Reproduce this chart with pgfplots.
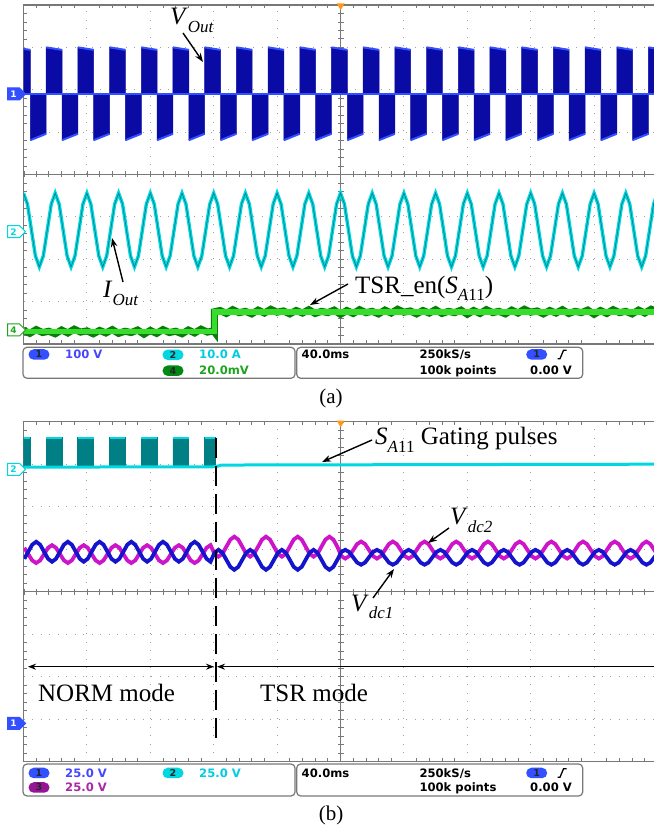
\documentclass[border=0pt]{standalone}
\usepackage{fontspec}
\setmainfont{Liberation Serif}
\newfontfamily\scopefont{DejaVu Sans}
\usepackage{pgfplots}
\pgfplotsset{compat=1.18}
\usetikzlibrary{arrows.meta,shapes.symbols,shapes.misc}
\definecolor{gridc}{RGB}{160,160,160}
\definecolor{bordc}{RGB}{120,120,120}
\definecolor{navyb}{RGB}{10,10,165}
\definecolor{brightb}{RGB}{50,80,255}
\definecolor{cyanc}{RGB}{0,215,225}
\definecolor{tealc}{RGB}{0,128,132}
\definecolor{greenc}{RGB}{55,220,45}
\definecolor{dgreen}{RGB}{10,125,10}
\definecolor{vblue}{RGB}{20,20,205}
\definecolor{vmag}{RGB}{205,20,200}
\definecolor{txtblue}{RGB}{70,70,255}
\definecolor{txtcyan}{RGB}{0,205,225}
\definecolor{txtgreen}{RGB}{30,165,30}
\definecolor{txtpurp}{RGB}{170,40,165}
\definecolor{trigor}{RGB}{255,150,20}
\definecolor{badgeg}{RGB}{0,135,20}
\definecolor{badgep}{RGB}{150,20,150}
\newcommand\st{\scopefont\bfseries\fontsize{11.6bp}{12bp}\selectfont}
\newcommand\an{\fontsize{25bp}{28bp}\selectfont}
\newcommand\lab[2]{\textit{#1}\raisebox{-0.3em}{\fontsize{17bp}{17bp}\selectfont #2}}
\pgfplotsset{scopescreen/.style={
  anchor=south west, scale only axis, width=634bp,
  xmin=0,xmax=400,ymin=-4,ymax=4,
  xtick={0,40,...,400}, ytick={-4,...,4},
  xticklabels={}, yticklabels={},
  major tick length=0pt, minor x tick num=4, minor y tick num=4,
  minor tick length=3.5bp, tick align=inside,
  minor tick style={bordc, line width=0.7bp},
  grid=major, major grid style={gridc, line width=0.9bp, dash pattern=on 1bp off 7.5bp},
  axis line style={bordc, line width=1.3bp},
  unbounded coords=jump, clip=true,
}}
\tikzset{
  chmark/.style={signal, signal to=east, minimum width=18bp, minimum height=12bp, inner sep=0pt,
    font=\scopefont\bfseries\fontsize{9bp}{9bp}\selectfont, line width=1bp},
  badge/.style={rounded rectangle, minimum width=21bp, minimum height=10.5bp, inner sep=0pt,
    font=\scopefont\bfseries\fontsize{9.5bp}{9.5bp}\selectfont, text=black!85},
  arr/.style={line width=1.4bp, -{Stealth[length=9bp,width=6.5bp]}},
}
\begin{document}
\begin{tikzpicture}[x=1bp,y=1bp]
\useasboundingbox (0,0) rectangle (654,829);
% ================= panel (a) =================
\begin{axis}[scopescreen, at={(23.5bp,485bp)}, height=339bp]
\draw[bordc, line width=1bp] (axis cs:0,0) -- (axis cs:400,0);
\draw[bordc, line width=6bp, dash pattern=on 0.8bp off 11.88bp, dash phase=0.4bp] (axis cs:0,0) -- (axis cs:400,0);
\draw[bordc, line width=1bp] (axis cs:200,-4) -- (axis cs:200,4);
\draw[bordc, line width=6bp, dash pattern=on 0.8bp off 7.675bp, dash phase=0.4bp] (axis cs:200,-4) -- (axis cs:200,4);
% V_out PWM blocks
\addplot[fill=navyb, draw=navyb, line width=0.5bp] coordinates {
(-6,1.9)(-6,3.0)
(4.3,2.94)(4.3,0.81)(14.3,0.96)(14.3,3.0)
(24.3,2.94)(24.3,0.81)(34.3,0.96)(34.3,3.0)
(44.3,2.94)(44.3,0.81)(54.3,0.96)(54.3,3.0)
(64.3,2.94)(64.3,0.81)(74.3,0.96)(74.3,3.0)
(84.3,2.94)(84.3,0.81)(94.3,0.96)(94.3,3.0)
(104.3,2.94)(104.3,0.81)(114.3,0.96)(114.3,3.0)
(124.3,2.94)(124.3,0.81)(134.3,0.96)(134.3,3.0)
(144.3,2.94)(144.3,0.81)(154.3,0.96)(154.3,3.0)
(164.3,2.94)(164.3,0.81)(174.3,0.96)(174.3,3.0)
(184.3,2.94)(184.3,0.81)(194.3,0.96)(194.3,3.0)
(204.3,2.94)(204.3,0.81)(214.3,0.96)(214.3,3.0)
(224.3,2.94)(224.3,0.81)(234.3,0.96)(234.3,3.0)
(244.3,2.94)(244.3,0.81)(254.3,0.96)(254.3,3.0)
(264.3,2.94)(264.3,0.81)(274.3,0.96)(274.3,3.0)
(284.3,2.94)(284.3,0.81)(294.3,0.96)(294.3,3.0)
(304.3,2.94)(304.3,0.81)(314.3,0.96)(314.3,3.0)
(324.3,2.94)(324.3,0.81)(334.3,0.96)(334.3,3.0)
(344.3,2.94)(344.3,0.81)(354.3,0.96)(354.3,3.0)
(364.3,2.94)(364.3,0.81)(374.3,0.96)(374.3,3.0)
(384.3,2.94)(384.3,0.81)(394.3,0.96)(394.3,3.0)
(404.3,2.94)(404.3,1.9)};
\addplot[brightb, line width=2bp] coordinates {
(-6,3.0)(4.3,2.94)(4.3,nan)
(14.3,3.0)(24.3,2.94)(24.3,nan)(34.3,3.0)(44.3,2.94)(44.3,nan)
(54.3,3.0)(64.3,2.94)(64.3,nan)(74.3,3.0)(84.3,2.94)(84.3,nan)
(94.3,3.0)(104.3,2.94)(104.3,nan)(114.3,3.0)(124.3,2.94)(124.3,nan)
(134.3,3.0)(144.3,2.94)(144.3,nan)(154.3,3.0)(164.3,2.94)(164.3,nan)
(174.3,3.0)(184.3,2.94)(184.3,nan)(194.3,3.0)(204.3,2.94)(204.3,nan)
(214.3,3.0)(224.3,2.94)(224.3,nan)(234.3,3.0)(244.3,2.94)(244.3,nan)
(254.3,3.0)(264.3,2.94)(264.3,nan)(274.3,3.0)(284.3,2.94)(284.3,nan)
(294.3,3.0)(304.3,2.94)(304.3,nan)(314.3,3.0)(324.3,2.94)(324.3,nan)
(334.3,3.0)(344.3,2.94)(344.3,nan)(354.3,3.0)(364.3,2.94)(364.3,nan)
(374.3,3.0)(384.3,2.94)(384.3,nan)(394.3,3.0)(404.3,2.94)};
\addplot[brightb, line width=2bp] coordinates {
(4.3,0.81)(14.3,0.96)(14.3,nan)(24.3,0.81)(34.3,0.96)(34.3,nan)
(44.3,0.81)(54.3,0.96)(54.3,nan)(64.3,0.81)(74.3,0.96)(74.3,nan)
(84.3,0.81)(94.3,0.96)(94.3,nan)(104.3,0.81)(114.3,0.96)(114.3,nan)
(124.3,0.81)(134.3,0.96)(134.3,nan)(144.3,0.81)(154.3,0.96)(154.3,nan)
(164.3,0.81)(174.3,0.96)(174.3,nan)(184.3,0.81)(194.3,0.96)(194.3,nan)
(204.3,0.81)(214.3,0.96)(214.3,nan)(224.3,0.81)(234.3,0.96)(234.3,nan)
(244.3,0.81)(254.3,0.96)(254.3,nan)(264.3,0.81)(274.3,0.96)(274.3,nan)
(284.3,0.81)(294.3,0.96)(294.3,nan)(304.3,0.81)(314.3,0.96)(314.3,nan)
(324.3,0.81)(334.3,0.96)(334.3,nan)(344.3,0.81)(354.3,0.96)(354.3,nan)
(364.3,0.81)(374.3,0.96)(374.3,nan)(384.3,0.81)(394.3,0.96)};
\addplot[brightb, line width=1.6bp] coordinates {(0,1.9)(400,1.9)};
% I_out
\addplot[cyanc, line width=3.4bp] coordinates {
(0,-0.44)(2.5,-0.70)(5,-1.31)(7.5,-1.92)(10,-2.18)(12.5,-1.92)(15,-1.31)(17.5,-0.70)
(20,-0.44)(22.5,-0.70)(25,-1.31)(27.5,-1.92)(30,-2.18)(32.5,-1.92)(35,-1.31)(37.5,-0.70)
(40,-0.44)(42.5,-0.70)(45,-1.31)(47.5,-1.92)(50,-2.18)(52.5,-1.92)(55,-1.31)(57.5,-0.70)
(60,-0.44)(62.5,-0.70)(65,-1.31)(67.5,-1.92)(70,-2.18)(72.5,-1.92)(75,-1.31)(77.5,-0.70)
(80,-0.44)(82.5,-0.70)(85,-1.31)(87.5,-1.92)(90,-2.18)(92.5,-1.92)(95,-1.31)(97.5,-0.70)
(100,-0.44)(102.5,-0.70)(105,-1.31)(107.5,-1.92)(110,-2.18)(112.5,-1.92)(115,-1.31)(117.5,-0.70)
(120,-0.44)(122.5,-0.70)(125,-1.31)(127.5,-1.92)(130,-2.18)(132.5,-1.92)(135,-1.31)(137.5,-0.70)
(140,-0.44)(142.5,-0.70)(145,-1.31)(147.5,-1.92)(150,-2.18)(152.5,-1.92)(155,-1.31)(157.5,-0.70)
(160,-0.44)(162.5,-0.70)(165,-1.31)(167.5,-1.92)(170,-2.18)(172.5,-1.92)(175,-1.31)(177.5,-0.70)
(180,-0.44)(182.5,-0.70)(185,-1.31)(187.5,-1.92)(190,-2.18)(192.5,-1.92)(195,-1.31)(197.5,-0.70)
(200,-0.44)(202.5,-0.70)(205,-1.31)(207.5,-1.92)(210,-2.18)(212.5,-1.92)(215,-1.31)(217.5,-0.70)
(220,-0.44)(222.5,-0.70)(225,-1.31)(227.5,-1.92)(230,-2.18)(232.5,-1.92)(235,-1.31)(237.5,-0.70)
(240,-0.44)(242.5,-0.70)(245,-1.31)(247.5,-1.92)(250,-2.18)(252.5,-1.92)(255,-1.31)(257.5,-0.70)
(260,-0.44)(262.5,-0.70)(265,-1.31)(267.5,-1.92)(270,-2.18)(272.5,-1.92)(275,-1.31)(277.5,-0.70)
(280,-0.44)(282.5,-0.70)(285,-1.31)(287.5,-1.92)(290,-2.18)(292.5,-1.92)(295,-1.31)(297.5,-0.70)
(300,-0.44)(302.5,-0.70)(305,-1.31)(307.5,-1.92)(310,-2.18)(312.5,-1.92)(315,-1.31)(317.5,-0.70)
(320,-0.44)(322.5,-0.70)(325,-1.31)(327.5,-1.92)(330,-2.18)(332.5,-1.92)(335,-1.31)(337.5,-0.70)
(340,-0.44)(342.5,-0.70)(345,-1.31)(347.5,-1.92)(350,-2.18)(352.5,-1.92)(355,-1.31)(357.5,-0.70)
(360,-0.44)(362.5,-0.70)(365,-1.31)(367.5,-1.92)(370,-2.18)(372.5,-1.92)(375,-1.31)(377.5,-0.70)
(380,-0.44)(382.5,-0.70)(385,-1.31)(387.5,-1.92)(390,-2.18)(392.5,-1.92)(395,-1.31)(397.5,-0.70)
(400,-0.44)};
\addplot[tealc, line width=0.7bp] coordinates {
(0,-0.44)(2.5,-0.70)(5,-1.31)(7.5,-1.92)(10,-2.18)(12.5,-1.92)(15,-1.31)(17.5,-0.70)
(20,-0.44)(22.5,-0.70)(25,-1.31)(27.5,-1.92)(30,-2.18)(32.5,-1.92)(35,-1.31)(37.5,-0.70)
(40,-0.44)(42.5,-0.70)(45,-1.31)(47.5,-1.92)(50,-2.18)(52.5,-1.92)(55,-1.31)(57.5,-0.70)
(60,-0.44)(62.5,-0.70)(65,-1.31)(67.5,-1.92)(70,-2.18)(72.5,-1.92)(75,-1.31)(77.5,-0.70)
(80,-0.44)(82.5,-0.70)(85,-1.31)(87.5,-1.92)(90,-2.18)(92.5,-1.92)(95,-1.31)(97.5,-0.70)
(100,-0.44)(102.5,-0.70)(105,-1.31)(107.5,-1.92)(110,-2.18)(112.5,-1.92)(115,-1.31)(117.5,-0.70)
(120,-0.44)(122.5,-0.70)(125,-1.31)(127.5,-1.92)(130,-2.18)(132.5,-1.92)(135,-1.31)(137.5,-0.70)
(140,-0.44)(142.5,-0.70)(145,-1.31)(147.5,-1.92)(150,-2.18)(152.5,-1.92)(155,-1.31)(157.5,-0.70)
(160,-0.44)(162.5,-0.70)(165,-1.31)(167.5,-1.92)(170,-2.18)(172.5,-1.92)(175,-1.31)(177.5,-0.70)
(180,-0.44)(182.5,-0.70)(185,-1.31)(187.5,-1.92)(190,-2.18)(192.5,-1.92)(195,-1.31)(197.5,-0.70)
(200,-0.44)(202.5,-0.70)(205,-1.31)(207.5,-1.92)(210,-2.18)(212.5,-1.92)(215,-1.31)(217.5,-0.70)
(220,-0.44)(222.5,-0.70)(225,-1.31)(227.5,-1.92)(230,-2.18)(232.5,-1.92)(235,-1.31)(237.5,-0.70)
(240,-0.44)(242.5,-0.70)(245,-1.31)(247.5,-1.92)(250,-2.18)(252.5,-1.92)(255,-1.31)(257.5,-0.70)
(260,-0.44)(262.5,-0.70)(265,-1.31)(267.5,-1.92)(270,-2.18)(272.5,-1.92)(275,-1.31)(277.5,-0.70)
(280,-0.44)(282.5,-0.70)(285,-1.31)(287.5,-1.92)(290,-2.18)(292.5,-1.92)(295,-1.31)(297.5,-0.70)
(300,-0.44)(302.5,-0.70)(305,-1.31)(307.5,-1.92)(310,-2.18)(312.5,-1.92)(315,-1.31)(317.5,-0.70)
(320,-0.44)(322.5,-0.70)(325,-1.31)(327.5,-1.92)(330,-2.18)(332.5,-1.92)(335,-1.31)(337.5,-0.70)
(340,-0.44)(342.5,-0.70)(345,-1.31)(347.5,-1.92)(350,-2.18)(352.5,-1.92)(355,-1.31)(357.5,-0.70)
(360,-0.44)(362.5,-0.70)(365,-1.31)(367.5,-1.92)(370,-2.18)(372.5,-1.92)(375,-1.31)(377.5,-0.70)
(380,-0.44)(382.5,-0.70)(385,-1.31)(387.5,-1.92)(390,-2.18)(392.5,-1.92)(395,-1.31)(397.5,-0.70)
(400,-0.44)};
% TSR_en green
\addplot[dgreen, line width=7bp] coordinates {
(0,-3.68)(4,-3.75)(8,-3.66)(12,-3.73)(16,-3.70)(20,-3.76)(24,-3.67)(28,-3.74)(32,-3.65)(36,-3.72)
(40,-3.69)(44,-3.76)(48,-3.68)(52,-3.74)(56,-3.66)(60,-3.75)(64,-3.70)(68,-3.73)(72,-3.67)(76,-3.77)
(80,-3.68)(84,-3.75)(88,-3.66)(92,-3.73)(96,-3.70)(100,-3.76)(104,-3.67)(108,-3.74)(112,-3.65)(116,-3.72)
(120,-3.69)(120.4,-3.71)(120.4,-3.24)
(124,-3.21)(128,-3.28)(132,-3.19)(136,-3.26)(140,-3.23)(144,-3.29)(148,-3.20)(152,-3.27)(156,-3.18)(160,-3.25)
(164,-3.22)(168,-3.29)(172,-3.21)(176,-3.27)(180,-3.19)(184,-3.28)(188,-3.23)(192,-3.26)(196,-3.20)(200,-3.30)
(204,-3.21)(208,-3.28)(212,-3.19)(216,-3.26)(220,-3.23)(224,-3.29)(228,-3.20)(232,-3.27)(236,-3.18)(240,-3.25)
(244,-3.22)(248,-3.29)(252,-3.21)(256,-3.27)(260,-3.19)(264,-3.28)(268,-3.23)(272,-3.26)(276,-3.20)(280,-3.30)
(284,-3.21)(288,-3.28)(292,-3.19)(296,-3.26)(300,-3.23)(304,-3.29)(308,-3.20)(312,-3.27)(316,-3.18)(320,-3.25)
(324,-3.22)(328,-3.29)(332,-3.21)(336,-3.27)(340,-3.19)(344,-3.28)(348,-3.23)(352,-3.26)(356,-3.20)(360,-3.30)
(364,-3.21)(368,-3.28)(372,-3.19)(376,-3.26)(380,-3.23)(384,-3.29)(388,-3.20)(392,-3.27)(396,-3.18)(400,-3.25)};
\addplot[greenc, line width=5.5bp] coordinates {(0,-3.71)(120.4,-3.71)(120.4,-3.24)(400,-3.24)};
\end{axis}
% ================= panel (b) =================
\begin{axis}[scopescreen, at={(23.5bp,67.3bp)}, height=340bp]
\draw[bordc, line width=1bp] (axis cs:0,0) -- (axis cs:400,0);
\draw[bordc, line width=6bp, dash pattern=on 0.8bp off 11.88bp, dash phase=0.4bp] (axis cs:0,0) -- (axis cs:400,0);
\draw[bordc, line width=1bp] (axis cs:200,-4) -- (axis cs:200,4);
\draw[bordc, line width=6bp, dash pattern=on 0.8bp off 7.7bp, dash phase=0.4bp] (axis cs:200,-4) -- (axis cs:200,4);
% gating pulses
\addplot[fill=tealc, draw=tealc, line width=0.8bp] coordinates {
(0,2.93)(0,3.62)(4.3,3.62)(4.3,2.93)(14.3,2.93)(14.3,3.62)(24.3,3.62)(24.3,2.93)
(34.3,2.93)(34.3,3.62)(44.3,3.62)(44.3,2.93)(54.3,2.93)(54.3,3.62)(64.3,3.62)(64.3,2.93)
(74.3,2.93)(74.3,3.62)(84.3,3.62)(84.3,2.93)(94.3,2.93)(94.3,3.62)(104.3,3.62)(104.3,2.93)
(114.3,2.93)(114.3,3.62)(121,3.62)(121,2.93)};
\addplot[cyanc, line width=2.4bp] coordinates {
(0,3.62)(4.3,3.62)(4.3,nan)(14.3,3.62)(24.3,3.62)(24.3,nan)(34.3,3.62)(44.3,3.62)(44.3,nan)
(54.3,3.62)(64.3,3.62)(64.3,nan)(74.3,3.62)(84.3,3.62)(84.3,nan)(94.3,3.62)(104.3,3.62)(104.3,nan)
(114.3,3.62)(121,3.62)};
\addplot[cyanc, line width=3bp] coordinates {(0,2.93)(121,2.94)(125,2.98)(400,3.0)};
% Vdc2 (magenta)
\addplot[vmag, line width=3.8bp] coordinates {
(0.5,1.033)(3,0.885)(5.5,0.737)(8,0.675)(10.5,0.737)(13,0.885)(15.5,1.033)(18,1.095)
(20.5,1.033)(23,0.885)(25.5,0.737)(28,0.675)(30.5,0.737)(33,0.885)(35.5,1.033)(38,1.095)
(40.5,1.033)(43,0.885)(45.5,0.737)(48,0.675)(50.5,0.737)(53,0.885)(55.5,1.033)(58,1.095)
(60.5,1.033)(63,0.885)(65.5,0.737)(68,0.675)(70.5,0.737)(73,0.885)(75.5,1.033)(78,1.095)
(80.5,1.033)(83,0.885)(85.5,0.737)(88,0.675)(90.5,0.737)(93,0.885)(95.5,1.033)(98,1.095)
(100.5,1.033)(103,0.885)(105.5,0.737)(108,0.675)(110.5,0.737)(113,0.885)(115.5,1.033)(118,1.095)
(120.5,0.894)(123,0.825)(125.5,0.894)(128,1.06)(130.5,1.226)(133,1.295)(135.5,1.226)(138,1.06)
(140.5,0.894)(143,0.825)(145.5,0.894)(148,1.06)(150.5,1.226)(153,1.295)(155.5,1.226)(158,1.06)
(160.5,0.894)(163,0.825)(165.5,0.894)(168,1.06)(170.5,1.226)(173,1.295)(175.5,1.226)(178,1.06)
(180.5,0.894)(183,0.825)(185.5,0.894)(188,1.06)(190.5,1.226)(193,1.295)(195.5,1.226)(198,1.06)
(200.5,0.839)(203,0.78)(205.5,0.839)(208,0.98)(210.5,1.121)(213,1.18)(215.5,1.121)(218,0.98)
(220.5,0.839)(223,0.78)(225.5,0.839)(228,0.98)(230.5,1.121)(233,1.18)(235.5,1.121)(238,0.98)
(240.5,0.839)(243,0.78)(245.5,0.839)(248,0.98)(250.5,1.121)(253,1.18)(255.5,1.121)(258,0.98)
(260.5,0.839)(263,0.78)(265.5,0.839)(268,0.98)(270.5,1.121)(273,1.18)(275.5,1.121)(278,0.98)
(280.5,0.839)(283,0.78)(285.5,0.839)(288,0.98)(290.5,1.121)(293,1.18)(295.5,1.121)(298,0.98)
(300.5,0.839)(303,0.78)(305.5,0.839)(308,0.98)(310.5,1.121)(313,1.18)(315.5,1.121)(318,0.98)
(320.5,0.839)(323,0.78)(325.5,0.839)(328,0.98)(330.5,1.121)(333,1.18)(335.5,1.121)(338,0.98)
(340.5,0.839)(343,0.78)(345.5,0.839)(348,0.98)(350.5,1.121)(353,1.18)(355.5,1.121)(358,0.98)
(360.5,0.839)(363,0.78)(365.5,0.839)(368,0.98)(370.5,1.121)(373,1.18)(375.5,1.121)(378,0.98)
(380.5,0.839)(383,0.78)(385.5,0.839)(388,0.98)(390.5,1.121)(393,1.18)(395.5,1.121)(398,0.98)
(400.5,0.839)};
% Vdc1 (blue)
\addplot[vblue, line width=3.8bp] coordinates {
(0.5,0.774)(3,0.94)(5.5,1.106)(8,1.175)(10.5,1.106)(13,0.94)(15.5,0.774)(18,0.705)
(20.5,0.774)(23,0.94)(25.5,1.106)(28,1.175)(30.5,1.106)(33,0.94)(35.5,0.774)(38,0.705)
(40.5,0.774)(43,0.94)(45.5,1.106)(48,1.175)(50.5,1.106)(53,0.94)(55.5,0.774)(58,0.705)
(60.5,0.774)(63,0.94)(65.5,1.106)(68,1.175)(70.5,1.106)(73,0.94)(75.5,0.774)(78,0.705)
(80.5,0.774)(83,0.94)(85.5,1.106)(88,1.175)(90.5,1.106)(93,0.94)(95.5,0.774)(98,0.705)
(100.5,0.774)(103,0.94)(105.5,1.106)(108,1.175)(110.5,1.106)(113,0.94)(115.5,0.774)(118,0.705)
(120.5,0.916)(123,0.985)(125.5,0.916)(128,0.75)(130.5,0.584)(133,0.515)(135.5,0.584)(138,0.75)
(140.5,0.916)(143,0.985)(145.5,0.916)(148,0.75)(150.5,0.584)(153,0.515)(155.5,0.584)(158,0.75)
(160.5,0.916)(163,0.985)(165.5,0.916)(168,0.75)(170.5,0.584)(173,0.515)(175.5,0.584)(178,0.75)
(180.5,0.916)(183,0.985)(185.5,0.916)(188,0.75)(190.5,0.584)(193,0.515)(195.5,0.584)(198,0.75)
(200.5,0.934)(203,0.985)(205.5,0.934)(208,0.81)(210.5,0.686)(213,0.635)(215.5,0.686)(218,0.81)
(220.5,0.934)(223,0.985)(225.5,0.934)(228,0.81)(230.5,0.686)(233,0.635)(235.5,0.686)(238,0.81)
(240.5,0.934)(243,0.985)(245.5,0.934)(248,0.81)(250.5,0.686)(253,0.635)(255.5,0.686)(258,0.81)
(260.5,0.934)(263,0.985)(265.5,0.934)(268,0.81)(270.5,0.686)(273,0.635)(275.5,0.686)(278,0.81)
(280.5,0.934)(283,0.985)(285.5,0.934)(288,0.81)(290.5,0.686)(293,0.635)(295.5,0.686)(298,0.81)
(300.5,0.934)(303,0.985)(305.5,0.934)(308,0.81)(310.5,0.686)(313,0.635)(315.5,0.686)(318,0.81)
(320.5,0.934)(323,0.985)(325.5,0.934)(328,0.81)(330.5,0.686)(333,0.635)(335.5,0.686)(338,0.81)
(340.5,0.934)(343,0.985)(345.5,0.934)(348,0.81)(350.5,0.686)(353,0.635)(355.5,0.686)(358,0.81)
(360.5,0.934)(363,0.985)(365.5,0.934)(368,0.81)(370.5,0.686)(373,0.635)(375.5,0.686)(378,0.81)
(380.5,0.934)(383,0.985)(385.5,0.934)(388,0.81)(390.5,0.686)(393,0.635)(395.5,0.686)(398,0.81)
(400.5,0.934)};
\end{axis}
% ---------- trigger markers ----------
\fill[trigor] (336.7,825.5) -- (344.7,825.5) -- (340.7,819) -- cycle;
\fill[trigor] (336.7,408.3) -- (344.7,408.3) -- (340.7,401.8) -- cycle;
% ---------- channel markers ----------
\node[chmark, fill=brightb, draw=brightb, text=white] at (13.5,735) {1};
\node[chmark, fill=white, draw=cyanc, text=cyanc] at (13.5,597.3) {2};
\node[chmark, fill=white, draw=txtgreen, text=txtgreen] at (13.5,499) {4};
\node[chmark, fill=white, draw=cyanc, text=cyanc] at (13.5,359.7) {2};
\node[chmark, fill=brightb, draw=brightb, text=white] at (13.5,105.7) {1};
% ---------- annotations ----------
\node[anchor=base west, inner sep=0pt, font=\an] at (170,804) {\lab{V}{\itshape Out}};
\draw[arr] (183,796) -- (203,767);
\node[anchor=base west, inner sep=0pt, font=\an] at (103,531) {\lab{I}{\itshape Out}};
\draw[arr] (123,547) -- (112,591);
\node[anchor=base west, inner sep=0pt, font=\an] at (355,535.7) {TSR\_en(\lab{S}{\textit{A}11})};
\draw[arr] (348,545) -- (310,524);
\node[anchor=base west, inner sep=0pt, font=\an] at (375,384) {\lab{S}{\textit{A}11} Gating pulses};
\draw[arr] (372,389) -- (322,367);
\node[anchor=base west, inner sep=0pt, font=\an] at (450,304) {\lab{V}{\itshape dc2}};
\draw[arr] (449,301) -- (428,286);
\node[anchor=base west, inner sep=0pt, font=\an] at (351,217.5) {\lab{V}{\itshape dc1}};
\draw[arr] (373,231) -- (394,260);
\draw[line width=2bp, dash pattern=on 20bp off 8bp] (215.5,391) -- (215.5,84);
\draw[line width=1.4bp, {Stealth[length=8bp,width=6bp]}-{Stealth[length=8bp,width=6bp]}] (28,162.3) -- (214,162.3);
\draw[line width=1.4bp, {Stealth[length=8bp,width=6bp]}-] (217,162.3) -- (660,162.3);
\node[anchor=base west, inner sep=0pt, font=\an] at (38,127.3) {NORM mode};
\node[anchor=base west, inner sep=0pt, font=\an] at (260,127.3) {TSR mode};
% ---------- status bar (a) ----------
\draw[bordc, line width=1.2bp, fill=white, rounded corners=4bp] (23,481.7) rectangle (295,450.7);
\draw[bordc, line width=1.2bp, fill=white, rounded corners=4bp] (296.7,481.7) rectangle (582.7,450.7);
\node[badge, fill=brightb] at (39,474.5) {1};
\node[anchor=base west, inner sep=0pt, font=\st, text=txtblue] at (65,470.2) {100 V};
\node[badge, fill=cyanc] at (173,474.2) {2};
\node[anchor=base west, inner sep=0pt, font=\st, text=txtcyan] at (199,470.2) {10.0 A};
\node[badge, fill=badgeg] at (173,458.3) {4};
\node[anchor=base west, inner sep=0pt, font=\st, text=txtgreen] at (199,454) {20.0mV};
\node[anchor=base west, inner sep=0pt, font=\st] at (301.5,470.2) {40.0ms};
\node[anchor=base west, inner sep=0pt, font=\st] at (419.3,470.2) {250kS/s};
\node[anchor=base west, inner sep=0pt, font=\st] at (419.3,454) {100k points};
\node[badge, fill=brightb] at (536.7,474.5) {1};
\draw[line width=1.3bp] (557.5,470.3) -- (560,470.3) -- (563.5,478.7) -- (566.5,478.7);
\node[anchor=base west, inner sep=0pt, font=\st] at (530,454) {0.00 V};
% ---------- status bar (b) ----------
\draw[bordc, line width=1.2bp, fill=white, rounded corners=4bp] (23,65) rectangle (295,33);
\draw[bordc, line width=1.2bp, fill=white, rounded corners=4bp] (296.7,65) rectangle (582.7,33);
\node[badge, fill=brightb] at (39,56) {1};
\node[anchor=base west, inner sep=0pt, font=\st, text=txtblue] at (65,51.7) {25.0 V};
\node[badge, fill=cyanc] at (173,56) {2};
\node[anchor=base west, inner sep=0pt, font=\st, text=txtcyan] at (199,51.7) {25.0 V};
\node[badge, fill=badgep] at (39,41.5) {3};
\node[anchor=base west, inner sep=0pt, font=\st, text=txtpurp] at (65,37.2) {25.0 V};
\node[anchor=base west, inner sep=0pt, font=\st] at (301.5,51.7) {40.0ms};
\node[anchor=base west, inner sep=0pt, font=\st] at (419.3,51.7) {250kS/s};
\node[anchor=base west, inner sep=0pt, font=\st] at (419.3,37.2) {100k points};
\node[badge, fill=brightb] at (536.7,56) {1};
\draw[line width=1.3bp] (557.5,51.8) -- (560,51.8) -- (563.5,60.2) -- (566.5,60.2);
\node[anchor=base west, inner sep=0pt, font=\st] at (530,37.2) {0.00 V};
% ---------- captions ----------
\node[font=\fontsize{21bp}{24bp}\selectfont] at (331,431) {(a)};
\node[font=\fontsize{21bp}{24bp}\selectfont] at (331,13.5) {(b)};
\end{tikzpicture}
\end{document}
